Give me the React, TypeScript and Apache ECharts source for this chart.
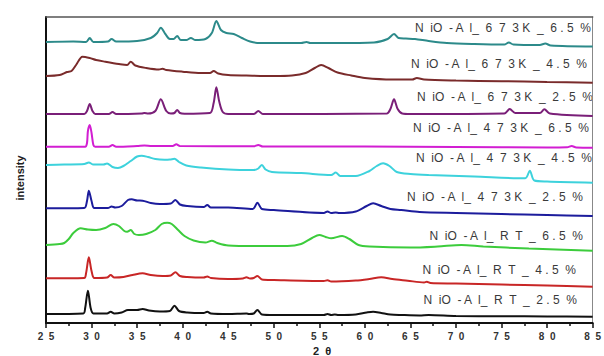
import React, { useEffect, useRef } from "react";
import * as echarts from "echarts";

// 2θ ticks
const X_MIN = 25;
const X_MAX = 85;
const X_STEP = 5;

// stacked intensities (arbitrary units, offset per pattern as in the figure)
const s673_65: number[][] = [
  [25, 281], [28, 281.5], [29.4, 281], [29.8, 285], [30.2, 281], [31.8, 281.5], [32.2, 284], [32.7, 281.5],
  [35, 282], [36.5, 285], [37.2, 290], [37.6, 295.3], [38.1, 289], [38.6, 284], [39.0, 284], [39.4, 287],
  [39.8, 283], [40.4, 283], [40.9, 285], [41.4, 283], [42.5, 284], [43.2, 290], [43.7, 302], [44.2, 293],
  [44.8, 290], [45.6, 289], [46.5, 285], [47.4, 281.5], [48.5, 280], [50, 280], [53, 280], [53.6, 281],
  [54, 280], [57, 280], [61, 280.5], [62.5, 284], [63.2, 289], [63.7, 285], [64.5, 284.5], [65.5, 284],
  [67, 282], [69, 280], [72, 279], [75.3, 278.5], [75.8, 280.5], [76.3, 278.5], [79.2, 278], [79.8, 279.5],
  [80.4, 277.5], [85, 276.5],
];
const s673_45: number[][] = [
  [25, 247], [26.5, 248], [27.3, 251], [27.8, 252], [28.3, 258], [29.0, 266.3], [29.8, 265], [30.5, 263],
  [31.5, 261.3], [33, 259], [33.9, 258], [34.3, 261.3], [34.8, 257.5], [36, 255], [37.4, 253.5], [37.8, 254.3],
  [38.2, 253], [40, 251.3], [42, 250], [43.0, 250], [43.4, 252], [43.9, 249.5], [45, 248], [47, 247.5],
  [50, 247], [52, 247.5], [53.5, 250], [54.5, 255], [55.2, 258], [56, 255], [57, 250.5], [58.5, 247.5],
  [60, 245], [63, 243.5], [65.2, 243.5], [65.7, 245], [66.5, 243.5], [70, 242.5], [75, 241.8], [80, 241],
  [85, 240.3],
];
const s673_25: number[][] = [
  [25, 209], [29.2, 209], [29.5, 212], [29.8, 219], [30.1, 212], [30.4, 209], [31.9, 209], [32.3, 211],
  [32.7, 209], [35.5, 209.5], [35.8, 210], [36.2, 209.5], [37.0, 212], [37.6, 223.7], [38.2, 212], [38.7, 209.5],
  [39.1, 210], [39.4, 213], [39.7, 210], [40.2, 209.3], [43.0, 210], [43.4, 220], [43.7, 235.7], [44.0, 222],
  [44.4, 211], [45, 209], [47.8, 209], [48.3, 212], [48.8, 209], [62.4, 209.5], [62.8, 214], [63.2, 223.7],
  [63.6, 214], [64.1, 209.5], [65, 209], [75.3, 209.5], [75.9, 214], [76.5, 210], [79.2, 210], [79.7, 213.7],
  [80.3, 209.5], [85, 207],
];
const s473_65: number[][] = [
  [25, 176.3], [29.3, 176.3], [29.5, 180], [29.6, 192], [29.8, 198], [30.0, 190], [30.2, 178], [30.4, 176.3],
  [31.9, 176.3], [32.3, 178], [32.7, 176.3], [35.0, 177], [35.8, 177.5], [36.6, 177], [38.9, 177], [39.3, 178.7],
  [39.7, 177], [47.8, 176.8], [48.3, 178], [48.8, 176.5], [60, 176.5], [70, 176], [80, 175.5], [82.2, 175.7],
  [82.7, 177], [83.2, 175.5], [85, 175.3],
];
const s473_45: number[][] = [
  [25, 158], [27, 158.5], [29.2, 159], [29.7, 160.5], [30.2, 158.5], [31.3, 158.5], [31.7, 159.5], [32.3, 156],
  [32.9, 155], [33.5, 157], [34.3, 162], [35.0, 166.5], [35.5, 167.3], [36.2, 166], [37.0, 164], [38.0, 163.3],
  [38.6, 163.5], [39.1, 164.2], [39.6, 161], [40.4, 157.5], [42, 155.5], [45, 153.5], [47.8, 153], [48.3, 154.5],
  [48.7, 158], [49.1, 153.5], [49.8, 151], [53, 150], [56.3, 148], [56.8, 150.5], [57.3, 147], [59, 147],
  [60.5, 152], [61.3, 157], [62.0, 159.7], [62.7, 157], [63.5, 151], [65, 149], [67, 148], [72, 146.5],
  [77.6, 144.7], [78.1, 152.3], [78.6, 142.5], [80, 141.5], [85, 140.3],
];
const s473_25: number[][] = [
  [25, 114.7], [29.2, 115], [29.5, 122], [29.7, 132.3], [30.0, 122], [30.3, 115], [31.8, 115], [32.2, 116.5],
  [32.6, 115.5], [33.3, 117], [34.0, 123], [34.4, 123.7], [35.0, 122.5], [35.6, 122.3], [36.5, 120], [37.5, 119],
  [38.7, 119.5], [39.2, 123], [39.7, 118.5], [40.5, 117], [42.3, 116], [42.7, 118], [43.1, 115.5], [45, 115.5],
  [47.7, 114], [48.2, 120.3], [48.7, 114], [50, 113], [55.5, 110], [55.9, 111.5], [56.3, 110], [56.8, 110.5],
  [57.2, 110], [59, 111.5], [60.2, 117], [60.9, 119.7], [61.8, 117], [62.8, 114], [64, 113], [66, 111],
  [70, 110], [75, 109], [80, 108], [85, 107],
];
const sRT_65: number[][] = [
  [25, 78], [26.5, 79], [27.0, 80], [27.5, 84], [28.0, 90], [28.8, 94.7], [29.6, 93.5], [30.5, 93],
  [31.5, 95], [32.4, 99], [33.0, 97], [33.6, 92], [33.9, 91.3], [34.3, 93], [34.7, 89], [35.2, 88],
  [36.0, 89], [37.0, 93], [37.7, 99], [38.3, 100.3], [38.8, 99], [39.5, 93], [40.2, 87], [41.2, 82.5],
  [42.5, 80.5], [43.2, 82.3], [43.8, 80], [45, 77.5], [48, 77], [51.5, 77], [53, 79], [54.2, 85],
  [55.0, 88], [55.7, 86], [56.3, 84.7], [57.5, 87], [58.3, 84], [59.3, 78], [60.5, 76.5], [65, 75.5],
  [68, 76.5], [70.6, 78], [73, 76.5], [78, 74.5], [85, 72.3],
];
const sRT_45: number[][] = [
  [25, 44.7], [29.2, 45], [29.4, 50], [29.7, 65.7], [30.0, 52], [30.3, 45], [31.7, 45.5], [32.1, 48],
  [32.5, 45.5], [33.5, 46], [34.5, 48], [35.6, 49.7], [36.5, 48], [37.8, 47], [38.7, 47.5], [39.2, 50.7],
  [39.7, 47], [40.5, 46], [42.3, 45.5], [42.7, 46.5], [43.1, 45], [45, 44], [46.6, 44.5], [47.0, 45.7],
  [47.4, 44.5], [47.8, 45], [48.2, 47], [48.7, 43.5], [50, 43], [55.5, 42], [55.9, 42.8], [56.3, 41.5],
  [59, 42.5], [60.5, 44], [61.8, 45.7], [63, 44], [64.7, 42.3], [66.5, 40.5], [66.8, 41.2], [67.2, 40],
  [70, 39.5], [75, 38.5], [80, 37.5], [85, 36.3],
];
const sRT_25: number[][] = [
  [25, 9], [29.1, 9.5], [29.3, 15], [29.6, 32.3], [29.9, 15], [30.2, 9.5], [31.7, 9.5], [32.1, 11.3],
  [32.5, 9.5], [33.3, 10.5], [34.0, 13], [35.0, 13], [35.6, 14], [36.3, 12.5], [37.5, 11.5], [38.6, 12],
  [39.1, 17.3], [39.6, 12], [40.5, 10.5], [42.3, 10], [42.7, 11.3], [43.1, 9.5], [45, 9], [47.0, 9.5],
  [47.3, 9], [47.8, 9.5], [48.2, 13], [48.7, 8.5], [50, 8], [55.5, 8], [55.9, 9], [56.3, 8], [56.7, 8.5],
  [57.1, 8], [59, 8.5], [60.2, 10.5], [60.9, 11.3], [61.8, 10], [62.8, 8.5], [64, 8], [66, 7.5], [67, 8],
  [70, 7], [75, 6.8], [80, 6.5], [85, 6.3],
];

const sampleNames = [
  "N  iO  - A  l_  6  7  3 K  _  6 . 5  %",
  "N  iO  - A  l_  6  7  3 K  _  4 . 5  %",
  "N  iO  - A  l_  6  7  3 K  _  2 . 5  %",
  "N  iO  - A  l_  4  7  3 K  _  6 . 5  %",
  "N  iO  - A  l_  4  7  3 K  _  4 . 5  %",
  "N  iO  - A  l_  4  7  3 K  _  2 . 5  %",
  "N  iO  - A  l_  R  T  _  6 . 5  %",
  "N  iO  - A  l_  R  T  _  4 . 5  %",
  "N  iO  - A  l_  R  T  _  2 . 5  %",
];
const seriesData = [s673_65, s673_45, s673_25, s473_65, s473_45, s473_25, sRT_65, sRT_45, sRT_25];
const colors = ["#2c8a8a", "#7a2b2b", "#7a1f78", "#d21ed2", "#3dd2dc", "#1c1c9c", "#3ccc3c", "#c82626", "#111111"];
// right end x, centre y
const labelPos = [
  [591, 28], [587, 64], [593, 97], [589, 128], [592, 158], [583, 197], [583, 236], [576, 270], [577, 300],
];

export default function App() {
  const ref = useRef<HTMLDivElement>(null);
  useEffect(() => {
    if (!ref.current) return;
    const chart = echarts.init(ref.current, undefined, { renderer: "svg" });
    chart.setOption({
      animation: false,
      backgroundColor: "#ffffff",
      grid: { left: 46, right: 1, top: 17, bottom: 33 },
      xAxis: [
        {
          type: "value",
          min: X_MIN,
          max: X_MAX,
          interval: X_STEP,
          position: "bottom",
          axisLine: { show: true, onZero: false, lineStyle: { color: "#111", width: 2 } },
          axisTick: { show: true, length: 5, lineStyle: { color: "#111", width: 1.5 } },
          minorTick: { show: true, splitNumber: 2, length: 3, lineStyle: { color: "#111", width: 1.5 } },
          splitLine: { show: false },
          axisLabel: {
            margin: 8,
            color: "#333",
            fontSize: 10,
            fontWeight: "bold",
            fontFamily: "Liberation Sans",
            formatter: (v: number) => String(v).split("").join("  "),
          },
        },
        {
          type: "value",
          min: X_MIN,
          max: X_MAX,
          position: "top",
          axisLine: { show: true, onZero: false, lineStyle: { color: "#555", width: 1.5 } },
          axisTick: { show: false },
          axisLabel: { show: false },
          splitLine: { show: false },
        },
      ],
      yAxis: [
        {
          type: "value",
          min: 0,
          max: 306,
          position: "left",
          axisLine: { show: true, onZero: false, lineStyle: { color: "#111", width: 2 } },
          axisTick: { show: false },
          axisLabel: { show: false },
          splitLine: { show: false },
        },
        {
          type: "value",
          min: 0,
          max: 306,
          position: "right",
          axisLine: { show: true, onZero: false, lineStyle: { color: "#888", width: 1 } },
          axisTick: { show: false },
          axisLabel: { show: false },
          splitLine: { show: false },
        },
      ],
      series: seriesData.map((d, i) => ({
        type: "line",
        name: sampleNames[i],
        data: d,
        xAxisIndex: 0,
        yAxisIndex: 0,
        showSymbol: false,
        smooth: 0.3,
        lineStyle: { color: colors[i], width: 2 },
      })),
      graphic: [
        ...sampleNames.map((n, i) => ({
          type: "text",
          x: labelPos[i][0],
          y: labelPos[i][1],
          style: {
            text: n,
            fill: "#3a3a3a",
            fontSize: 12,
            fontFamily: "Liberation Sans",
            align: "right",
            verticalAlign: "middle",
          },
        })),
        {
          type: "text",
          x: 20,
          y: 178,
          rotation: Math.PI / 2,
          style: {
            text: "intensity",
            fill: "#222",
            fontSize: 11,
            fontWeight: "bold",
            fontFamily: "Liberation Sans",
            align: "center",
            verticalAlign: "middle",
          },
        },
        {
          type: "text",
          x: 322,
          y: 351,
          style: {
            text: "2  θ",
            fill: "#222",
            fontSize: 11,
            fontWeight: "bold",
            fontFamily: "Liberation Sans",
            align: "center",
            verticalAlign: "middle",
          },
        },
      ],
    });
    return () => chart.dispose();
  }, []);
  return <div ref={ref} style={{ position: "absolute", left: 0, top: 0, width: 604, height: 356 }} />;
}
